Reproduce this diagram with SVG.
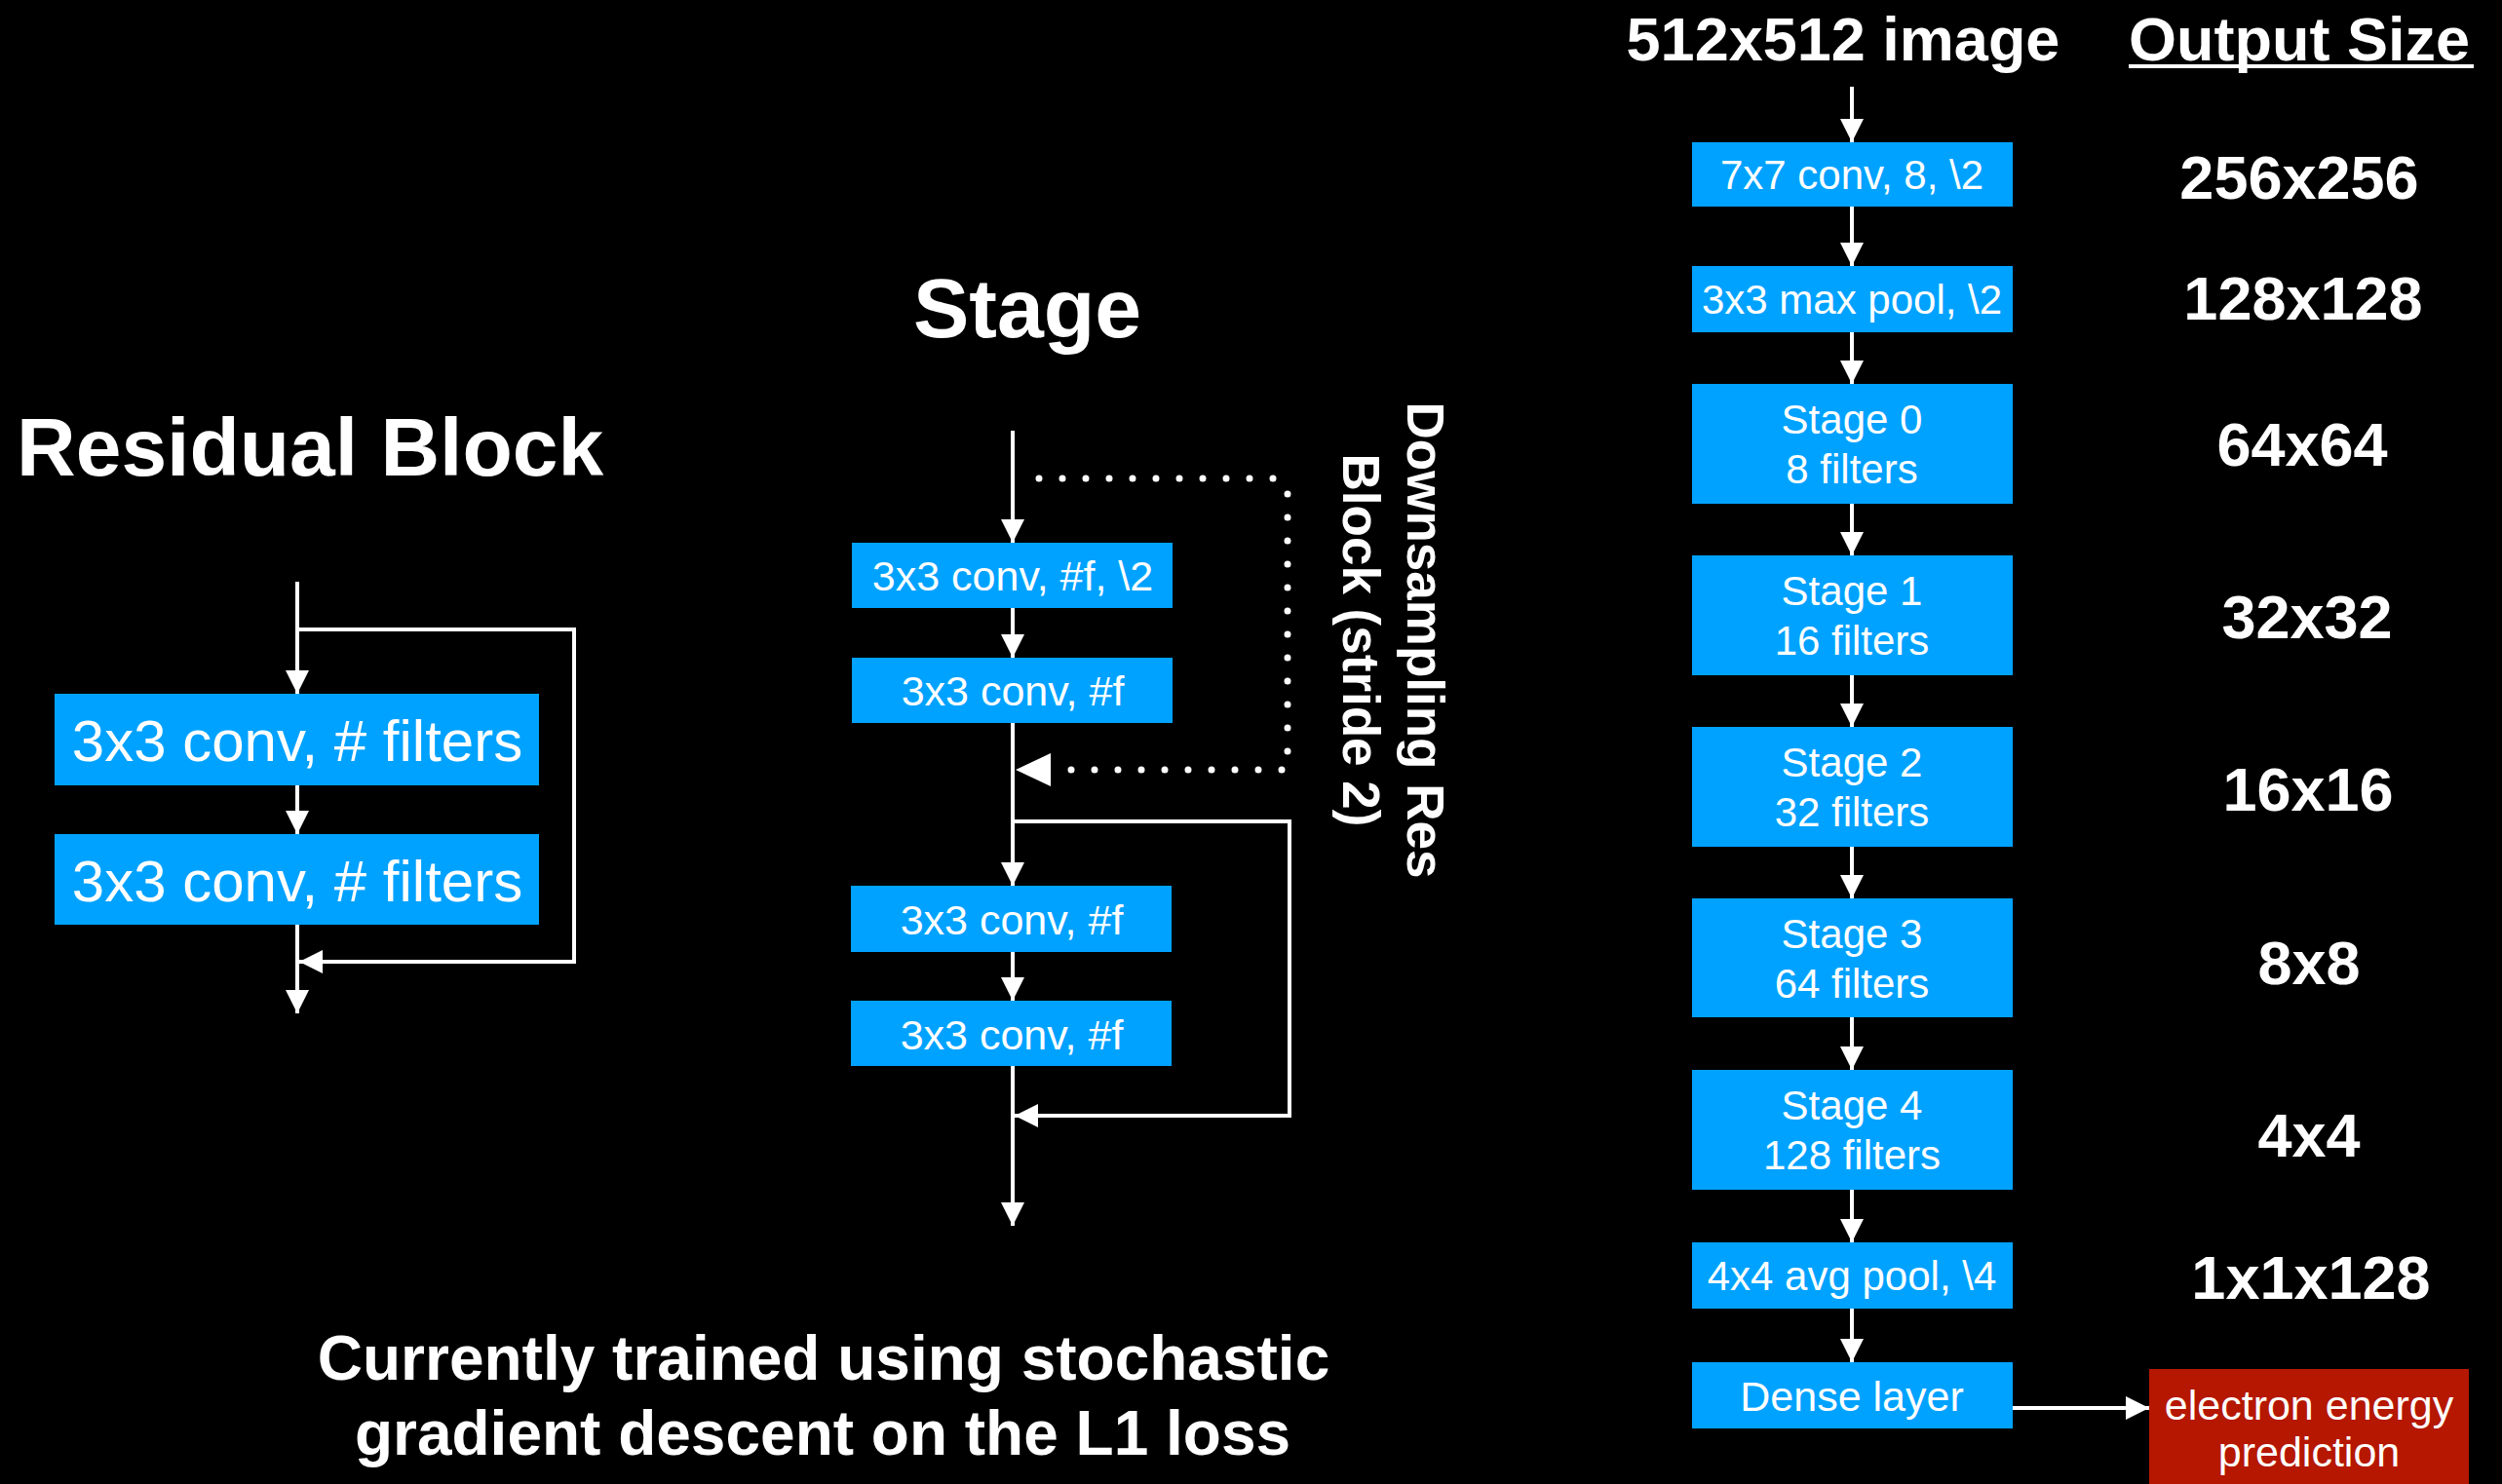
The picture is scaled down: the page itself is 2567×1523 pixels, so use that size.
<svg xmlns="http://www.w3.org/2000/svg" width="2567" height="1523" viewBox="0 0 2567 1523">
  <style>
    text { font-family: "Liberation Sans", Arial, Helvetica, sans-serif; fill: #ffffff; }
    .title { font-weight: bold; }
    .box { fill: #00A2FF; }
    .red { fill: #B51700; }
    .lbl { text-anchor: middle; }
    .conn { stroke: #ffffff; stroke-width: 4; fill: none; }
    .dots { stroke: #ffffff; stroke-width: 7; stroke-linecap: round; stroke-dasharray: 0 24; fill: none; }
  </style>
  <defs>
    <marker id="ah" viewBox="0 0 24 24" markerWidth="24" markerHeight="24" refX="24" refY="12" orient="auto" markerUnits="userSpaceOnUse">
      <path d="M0,0 L24,12 L0,24 z" fill="#ffffff"/>
    </marker>
  </defs>
  <rect x="0" y="0" width="2567" height="1523" fill="#000000"/>

  <!-- Titles -->
  <text class="title" x="17" y="488" font-size="84">Residual Block</text>
  <text class="title lbl" x="1054" y="346" font-size="86">Stage</text>
  <text class="title lbl" x="1891" y="62" font-size="63">512x512 image</text>
  <text class="title" x="2184" y="62" font-size="63">Output Size</text>
  <rect x="2184" y="66" width="354" height="4" fill="#ffffff"/>
  <g transform="translate(1444,657) rotate(90)">
    <text class="title lbl" x="0" y="0" font-size="53">Downsampling Res</text>
  </g>
  <g transform="translate(1378,657) rotate(90)">
    <text class="title lbl" x="0" y="0" font-size="53">Block (stride 2)</text>
  </g>

  <!-- Connectors -->
  <g id="connectors">
    <!-- residual block -->
    <path class="conn" d="M305 597 V712" marker-end="url(#ah)"/>
    <path class="conn" d="M305 806 V856" marker-end="url(#ah)"/>
    <path class="conn" d="M305 949 V1040" marker-end="url(#ah)"/>
    <path class="conn" d="M305 646 H589 V987 H307" marker-end="url(#ah)"/>
    <!-- stage -->
    <path class="conn" d="M1039 442 V557" marker-end="url(#ah)"/>
    <path class="conn" d="M1039 624 V675" marker-end="url(#ah)"/>
    <path class="conn" d="M1039 742 V909" marker-end="url(#ah)"/>
    <path class="conn" d="M1039 977 V1027" marker-end="url(#ah)"/>
    <path class="conn" d="M1039 1094 V1258" marker-end="url(#ah)"/>
    <path class="conn" d="M1039 843 H1323 V1145 H1041" marker-end="url(#ah)"/>
    <path class="dots" d="M1066 491 H1308"/>
    <path class="dots" d="M1321 507 V773"/>
    <path class="dots" d="M1315 790 H1097"/>
    <polygon points="1042,790 1078,773 1078,807" fill="#ffffff"/>
    <!-- main network -->
    <path class="conn" d="M1900 89 V146" marker-end="url(#ah)"/>
    <path class="conn" d="M1900 212 V273" marker-end="url(#ah)"/>
    <path class="conn" d="M1900 341 V394" marker-end="url(#ah)"/>
    <path class="conn" d="M1900 517 V570" marker-end="url(#ah)"/>
    <path class="conn" d="M1900 693 V746" marker-end="url(#ah)"/>
    <path class="conn" d="M1900 869 V922" marker-end="url(#ah)"/>
    <path class="conn" d="M1900 1044 V1098" marker-end="url(#ah)"/>
    <path class="conn" d="M1900 1221 V1275" marker-end="url(#ah)"/>
    <path class="conn" d="M1900 1343 V1398" marker-end="url(#ah)"/>
    <path class="conn" d="M2065 1445 H2205" marker-end="url(#ah)"/>
  </g>

  <!-- Residual block nodes -->
  <g id="res-conv1">
    <rect class="box" x="56" y="712" width="497" height="94"/>
    <text class="lbl" x="305" y="781" font-size="60">3x3 conv, # filters</text>
  </g>
  <g id="res-conv2">
    <rect class="box" x="56" y="856" width="497" height="93"/>
    <text class="lbl" x="305" y="925" font-size="60">3x3 conv, # filters</text>
  </g>

  <!-- Stage nodes -->
  <g id="stage-conv1">
    <rect class="box" x="874" y="557" width="329" height="67"/>
    <text class="lbl" x="1039" y="606" font-size="43">3x3 conv, #f, \2</text>
  </g>
  <g id="stage-conv2">
    <rect class="box" x="874" y="675" width="329" height="67"/>
    <text class="lbl" x="1039" y="724" font-size="43">3x3 conv, #f</text>
  </g>
  <g id="stage-conv3">
    <rect class="box" x="873" y="909" width="329" height="68"/>
    <text class="lbl" x="1038" y="959" font-size="43">3x3 conv, #f</text>
  </g>
  <g id="stage-conv4">
    <rect class="box" x="873" y="1027" width="329" height="67"/>
    <text class="lbl" x="1038" y="1077" font-size="43">3x3 conv, #f</text>
  </g>

  <!-- Main network nodes -->
  <g id="conv7">
    <rect class="box" x="1736" y="146" width="329" height="66"/>
    <text class="lbl" x="1900" y="194" font-size="42">7x7 conv, 8, \2</text>
  </g>
  <g id="maxpool">
    <rect class="box" x="1736" y="273" width="329" height="68"/>
    <text class="lbl" x="1900" y="322" font-size="42">3x3 max pool, \2</text>
  </g>
  <g id="stage0">
    <rect class="box" x="1736" y="394" width="329" height="123"/>
    <text class="lbl" x="1900" y="445" font-size="42">Stage 0</text>
    <text class="lbl" x="1900" y="496" font-size="42">8 filters</text>
  </g>
  <g id="stage1">
    <rect class="box" x="1736" y="570" width="329" height="123"/>
    <text class="lbl" x="1900" y="621" font-size="42">Stage 1</text>
    <text class="lbl" x="1900" y="672" font-size="42">16 filters</text>
  </g>
  <g id="stage2">
    <rect class="box" x="1736" y="746" width="329" height="123"/>
    <text class="lbl" x="1900" y="797" font-size="42">Stage 2</text>
    <text class="lbl" x="1900" y="848" font-size="42">32 filters</text>
  </g>
  <g id="stage3">
    <rect class="box" x="1736" y="922" width="329" height="122"/>
    <text class="lbl" x="1900" y="973" font-size="42">Stage 3</text>
    <text class="lbl" x="1900" y="1024" font-size="42">64 filters</text>
  </g>
  <g id="stage4">
    <rect class="box" x="1736" y="1098" width="329" height="123"/>
    <text class="lbl" x="1900" y="1149" font-size="42">Stage 4</text>
    <text class="lbl" x="1900" y="1200" font-size="42">128 filters</text>
  </g>
  <g id="avgpool">
    <rect class="box" x="1736" y="1275" width="329" height="68"/>
    <text class="lbl" x="1900" y="1324" font-size="42">4x4 avg pool, \4</text>
  </g>
  <g id="dense">
    <rect class="box" x="1736" y="1398" width="329" height="68"/>
    <text class="lbl" x="1900" y="1448" font-size="43">Dense layer</text>
  </g>
  <g id="prediction">
    <rect class="red" x="2205" y="1405" width="328" height="125"/>
    <text class="lbl" x="2369" y="1457" font-size="43">electron energy</text>
    <text class="lbl" x="2369" y="1505" font-size="43">prediction</text>
  </g>

  <!-- Output sizes -->
  <g id="sizes" class="title">
    <text class="lbl" x="2359" y="204" font-size="63">256x256</text>
    <text class="lbl" x="2363" y="328" font-size="63">128x128</text>
    <text class="lbl" x="2362" y="478" font-size="63">64x64</text>
    <text class="lbl" x="2367" y="655" font-size="63">32x32</text>
    <text class="lbl" x="2368" y="832" font-size="63">16x16</text>
    <text class="lbl" x="2369" y="1010" font-size="63">8x8</text>
    <text class="lbl" x="2369" y="1187" font-size="63">4x4</text>
    <text class="lbl" x="2371" y="1333" font-size="63">1x1x128</text>
  </g>

  <!-- Caption -->
  <text class="title lbl" x="845" y="1416" font-size="64">Currently trained using stochastic</text>
  <text class="title lbl" x="844" y="1493" font-size="64">gradient descent on the L1 loss</text>
</svg>
